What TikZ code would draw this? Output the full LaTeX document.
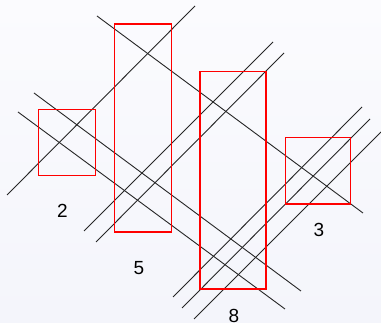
\documentclass[tikz,border=0pt]{standalone}
\usepackage{fontspec}
\setmainfont{Liberation Sans}
\usepackage{xcolor}
\usepackage{tikz}

\definecolor{bgtop}{HTML}{FBFBFE}
\definecolor{bgbottom}{HTML}{F4F5FB}

\begin{document}
\begin{tikzpicture}[
    x=1pt, y=-1pt,
    cut/.style={
        draw=black!85,
        line width=0.9pt
    },
    zone/.style={
        draw=red,
        line width=1.1pt
    },
    tag/.style={
        inner sep=0pt,
        font=\fontsize{19}{22}\selectfont
    }
]

% Background
\fill[top color=bgtop, bottom color=bgbottom] (0,0) rectangle (381,323);
\useasboundingbox (0,0) rectangle (381,323);

% Rising lines
\draw[cut] (7,195) -- (195,6);
\draw[cut] (84,231) -- (273,42);
\draw[cut] (96,242) -- (284,53);
\draw[cut] (173,297) -- (362,107);
\draw[cut] (182,308) -- (370,119);
\draw[cut] (194,319) -- (381,132);

% Falling lines
\draw[cut] (97,16) -- (363,213);
\draw[cut] (34,93) -- (301,291);
\draw[cut] (18,112) -- (285,309);

% Zones
\draw[zone] (38.5,109.5) rectangle (95.5,175.5);
\draw[zone] (114.5,24) rectangle (171.5,232);
\draw[zone] (200,71.5) rectangle (266,289);
\draw[zone] (285.5,137.5) rectangle (350.5,204);

% Labels
\node[tag] (l2) at (62.5,211) {2};
\node[tag] (l5) at (139,268.5) {5};
\node[tag] (l8) at (234,315.5) {8};
\node[tag] (l3) at (319,229.5) {3};

\end{tikzpicture}
\end{document}
